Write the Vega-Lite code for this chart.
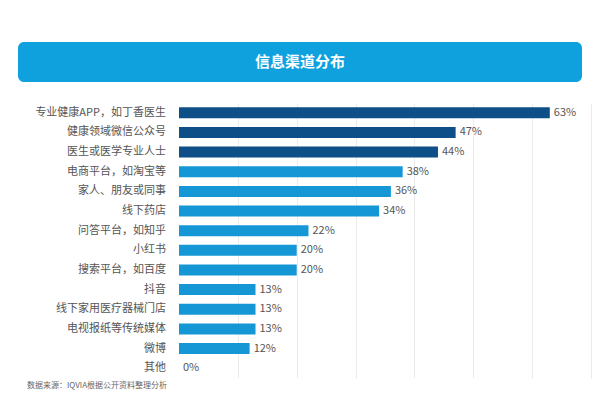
{
  "$schema": "https://vega.github.io/schema/vega-lite/v6.json",
  "background": "white",
  "padding": {"left": 18, "top": 42, "right": 9, "bottom": 10},
  "config": {
    "view": {"stroke": null},
    "font": "Noto Sans CJK SC"
  },
  "title": {
    "text": "数据来源：IQVIA根据公开资料整理分析",
    "orient": "bottom",
    "anchor": "start",
    "fontSize": 8,
    "fontWeight": "normal",
    "color": "#666666",
    "offset": 4,
    "dx": 9
  },
  "datasets": {
    "channels": [
      {"channel": "专业健康APP，如丁香医生", "value": 0.63},
      {"channel": "健康领域微信公众号", "value": 0.47},
      {"channel": "医生或医学专业人士", "value": 0.44},
      {"channel": "电商平台，如淘宝等", "value": 0.38},
      {"channel": "家人、朋友或同事", "value": 0.36},
      {"channel": "线下药店", "value": 0.34},
      {"channel": "问答平台，如知乎", "value": 0.22},
      {"channel": "小红书", "value": 0.20},
      {"channel": "搜索平台，如百度", "value": 0.20},
      {"channel": "抖音", "value": 0.13},
      {"channel": "线下家用医疗器械门店", "value": 0.13},
      {"channel": "电视报纸等传统媒体", "value": 0.13},
      {"channel": "微博", "value": 0.12},
      {"channel": "其他", "value": 0.0}
    ]
  },
  "spacing": 21,
  "vconcat": [
    {
      "width": 564,
      "height": 40,
      "view": {"fill": "#0ea1de", "cornerRadius": 6, "stroke": null},
      "data": {"values": [{"t": "信息渠道分布"}]},
      "mark": {
        "type": "text",
        "color": "white",
        "fontSize": 15,
        "fontWeight": "bold",
        "align": "center",
        "baseline": "middle"
      },
      "encoding": {"text": {"field": "t", "type": "nominal"}}
    },
    {
      "spacing": 13,
      "hconcat": [
        {
          "width": 148,
          "height": 275,
          "data": {"name": "channels"},
          "mark": {
            "type": "text",
            "align": "right",
            "baseline": "middle",
            "fontSize": 11,
            "color": "#555555"
          },
          "encoding": {
            "x": {"value": "width"},
            "y": {
              "field": "channel",
              "type": "nominal",
              "sort": null,
              "axis": null,
              "scale": {"paddingInner": 0.44, "paddingOuter": 0.22}
            },
            "text": {"field": "channel", "type": "nominal"}
          }
        },
        {
          "width": 412,
          "height": 275,
          "data": {"name": "channels"},
          "encoding": {
            "y": {
              "field": "channel",
              "type": "nominal",
              "sort": null,
              "axis": null,
              "scale": {"paddingInner": 0.44, "paddingOuter": 0.22}
            },
            "x": {
              "field": "value",
              "type": "quantitative",
              "scale": {"domain": [0, 0.7], "nice": false},
              "axis": {
                "grid": true,
                "values": [0.1, 0.2, 0.3, 0.4, 0.5, 0.6, 0.7],
                "gridColor": "#ebebeb",
                "gridWidth": 1,
                "labels": false,
                "ticks": false,
                "domain": false,
                "title": null
              }
            }
          },
          "layer": [
            {
              "mark": {"type": "bar"},
              "encoding": {
                "color": {
                  "field": "value",
                  "type": "quantitative",
                  "scale": {"type": "threshold", "domain": [0.4], "range": ["#1497d4", "#0d4f86"]},
                  "legend": null
                }
              }
            },
            {
              "mark": {
                "type": "text",
                "align": "left",
                "baseline": "middle",
                "dx": 4,
                "fontSize": 11,
                "color": "#555555"
              },
              "encoding": {
                "text": {"field": "value", "type": "quantitative", "format": ".0%"}
              }
            }
          ]
        }
      ]
    }
  ]
}
